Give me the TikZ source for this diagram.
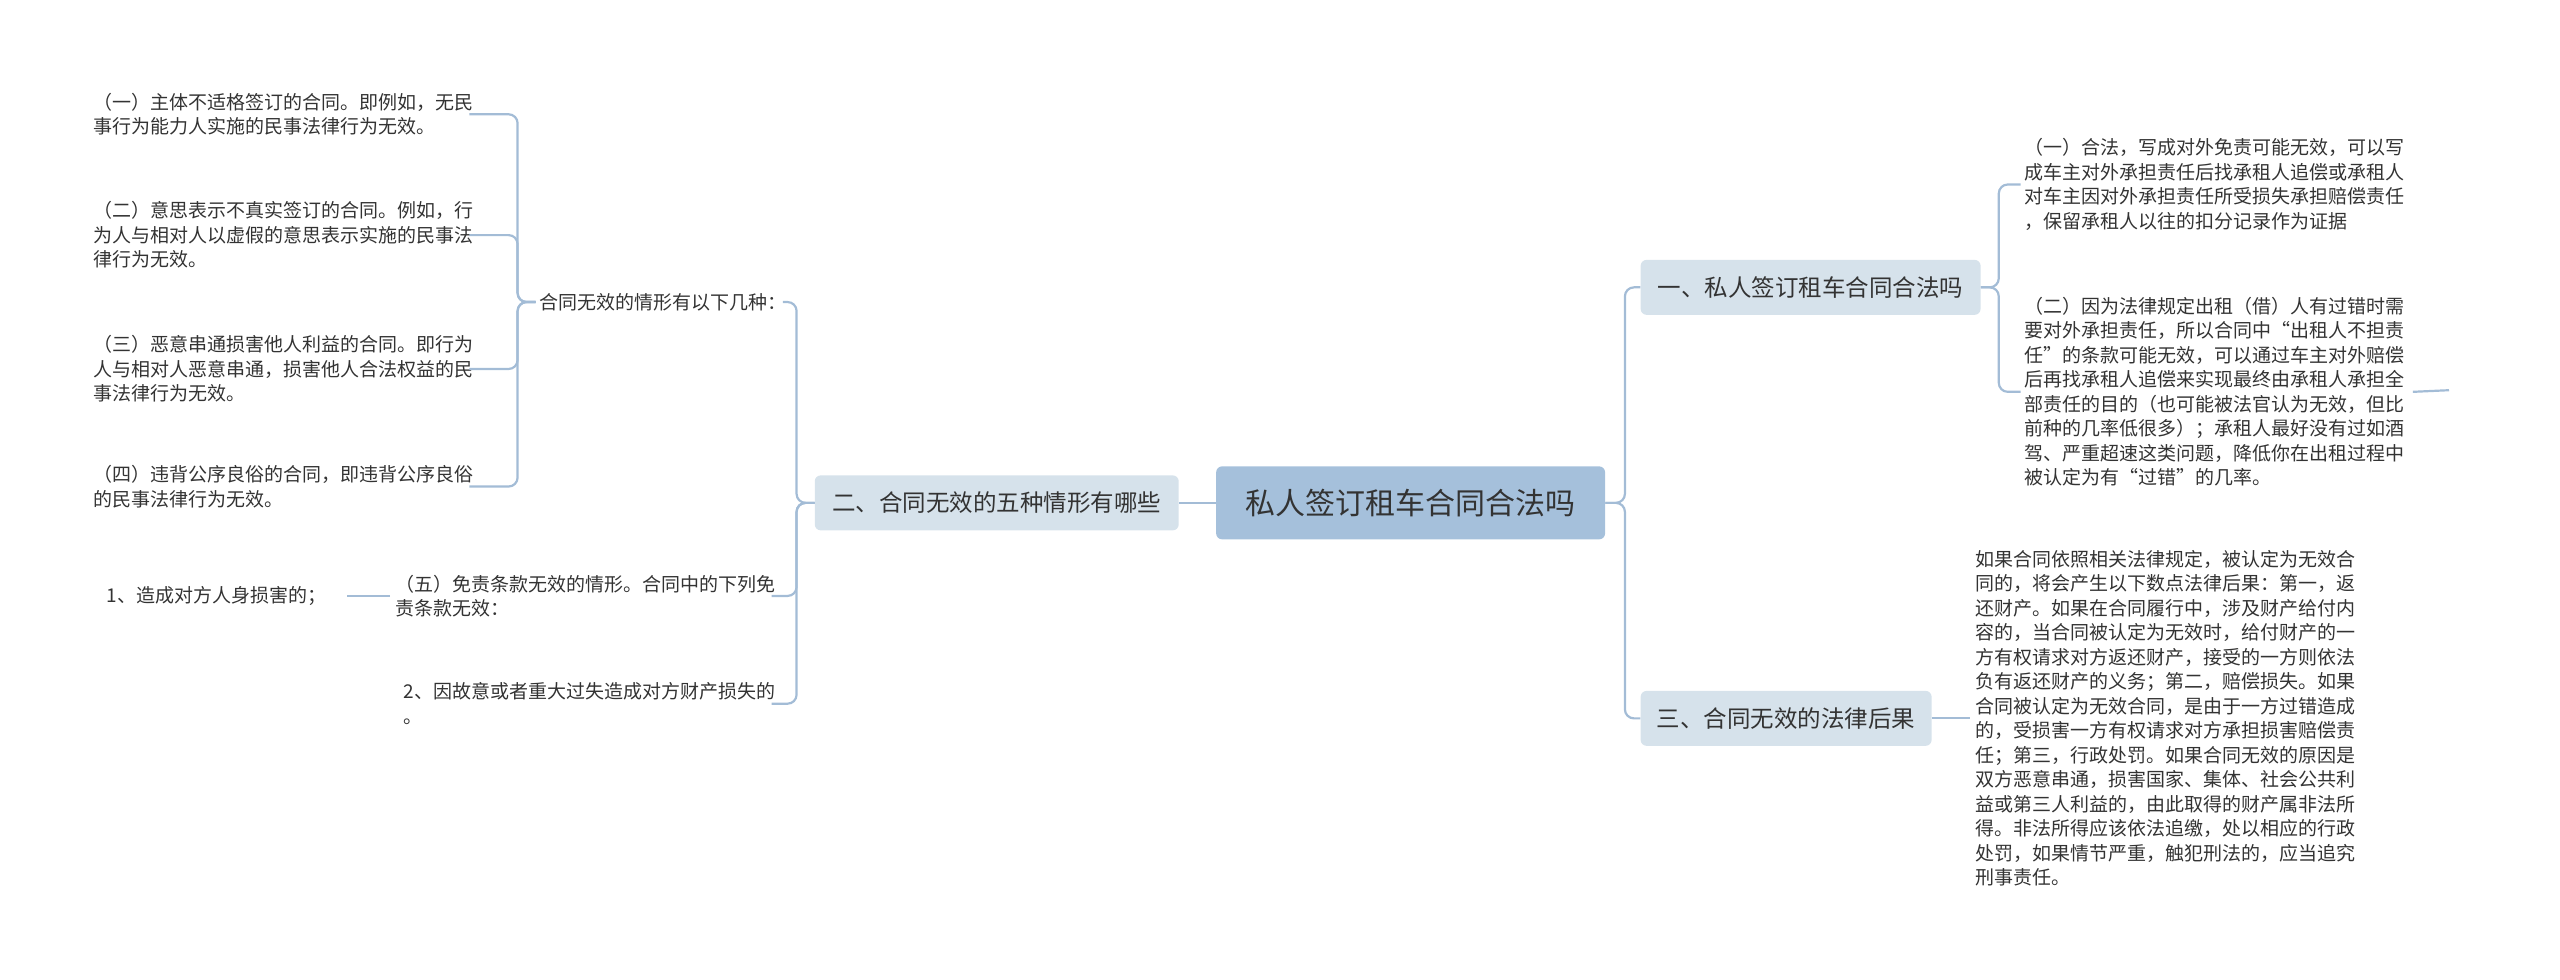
\documentclass[tikz,border=0pt]{standalone}
\usepackage{fontspec}
\setmainfont{Noto Sans CJK SC}
\definecolor{linkblue}{HTML}{A3BCD6}
\definecolor{boxfill}{HTML}{D6E2EB}
\definecolor{rootfill}{HTML}{A5C0DB}
\definecolor{inkgrey}{HTML}{333333}
\tikzset{
  link/.style={draw=linkblue, line width=2.2pt, rounded corners=9pt},
  rootbox/.style={fill=rootfill, rounded corners=6pt, text=inkgrey, minimum width=389pt, minimum height=73pt, font=\fontsize{30}{32}\selectfont},
  topicbox/.style={fill=boxfill, rounded corners=6pt, text=inkgrey, minimum height=55pt, font=\fontsize{23.5}{26}\selectfont},
  leaf/.style={inner sep=0pt, align=left, text=inkgrey, font=\fontsize{19}{24.5}\selectfont}
}
\begin{document}
\begin{tikzpicture}[x=1.6327pt, y=-1.6327pt]
  \useasboundingbox (0,0) rectangle (1568,600);

  % centre and main topics
  \node[rootbox] (root) at (864,308) {私人签订租车合同合法吗};
  \node[topicbox, minimum width=364pt] (two) at (610.5,308) {二、合同无效的五种情形有哪些};
  \node[topicbox, minimum width=340pt] (one) at (1109,176) {一、私人签订租车合同合法吗};
  \node[topicbox, minimum width=291pt] (three) at (1094,440) {三、合同无效的法律后果};

  % left side
  \node[leaf, anchor=east] (kinds) at (482,185) {合同无效的情形有以下几种：};
  \node[leaf, anchor=east] (k1) at (290,70) {（一）主体不适格签订的合同。即例如，无民\\事行为能力人实施的民事法律行为无效。};
  \node[leaf, anchor=east] (k2) at (290,144) {（二）意思表示不真实签订的合同。例如，行\\为人与相对人以虚假的意思表示实施的民事法\\律行为无效。};
  \node[leaf, anchor=east] (k3) at (290,226) {（三）恶意串通损害他人利益的合同。即行为\\人与相对人恶意串通，损害他人合法权益的民\\事法律行为无效。};
  \node[leaf, anchor=east] (k4) at (290,298) {（四）违背公序良俗的合同，即违背公序良俗\\的民事法律行为无效。};
  \node[leaf, anchor=east] (k5) at (475,365) {（五）免责条款无效的情形。合同中的下列免\\责条款无效：};
  \node[leaf, anchor=east] (k5b) at (475,431) {2、因故意或者重大过失造成对方财产损失的\\。};
  \node[leaf, anchor=east] (k5a) at (200,365) {1、造成对方人身损害的；};

  % right side
  \node[leaf, anchor=west] (y1) at (1240,113) {（一）合法，写成对外免责可能无效，可以写\\成车主对外承担责任后找承租人追偿或承租人\\对车主因对外承担责任所受损失承担赔偿责任\\，保留承租人以往的扣分记录作为证据};
  \node[leaf, anchor=west] (y2) at (1240,240) {（二）因为法律规定出租（借）人有过错时需\\要对外承担责任，所以合同中“出租人不担责\\任”的条款可能无效，可以通过车主对外赔偿\\后再找承租人追偿来实现最终由承租人承担全\\部责任的目的（也可能被法官认为无效，但比\\前种的几率低很多）；承租人最好没有过如酒\\驾、严重超速这类问题，降低你在出租过程中\\被认定为有“过错”的几率。};
  \node[leaf, anchor=west] (s1) at (1210,440) {如果合同依照相关法律规定，被认定为无效合\\同的，将会产生以下数点法律后果：第一，返\\还财产。如果在合同履行中，涉及财产给付内\\容的，当合同被认定为无效时，给付财产的一\\方有权请求对方返还财产，接受的一方则依法\\负有返还财产的义务；第二，赔偿损失。如果\\合同被认定为无效合同，是由于一方过错造成\\的，受损害一方有权请求对方承担损害赔偿责\\任；第三，行政处罚。如果合同无效的原因是\\双方恶意串通，损害国家、集体、社会公共利\\益或第三人利益的，由此取得的财产属非法所\\得。非法所得应该依法追缴，处以相应的行政\\处罚，如果情节严重，触犯刑法的，应当追究\\刑事责任。};
  \coordinate (stub) at (1500,239);

  % connectors
  \draw[link] (root.west) -- (two.east);
  \foreach \c in {one,three}
    \draw[link] (root.east) -- ++(12,0) |- (\c.west);
  \foreach \c in {kinds,k5,k5b}
    \draw[link] (two.west) -- ++(-11,0) |- ([xshift=-4pt]\c.east);
  \foreach \c in {k1,k2,k3,k4}
    \draw[link] ([xshift=-4pt]kinds.west) -- ++(-11,0) |- ([xshift=-4pt]\c.east);
  \draw[link] ([xshift=-5pt]k5.west) -- ([xshift=20pt]k5a.east);
  \foreach \c in {y1,y2}
    \draw[link] (one.east) -- ++(11,0) |- ([xshift=-4pt]\c.west);
  \draw[link] (three.east) -- ([xshift=-6pt]s1.west);
  \draw[link] ([xshift=8pt]y2.east) -- (stub);
\end{tikzpicture}
\end{document}
